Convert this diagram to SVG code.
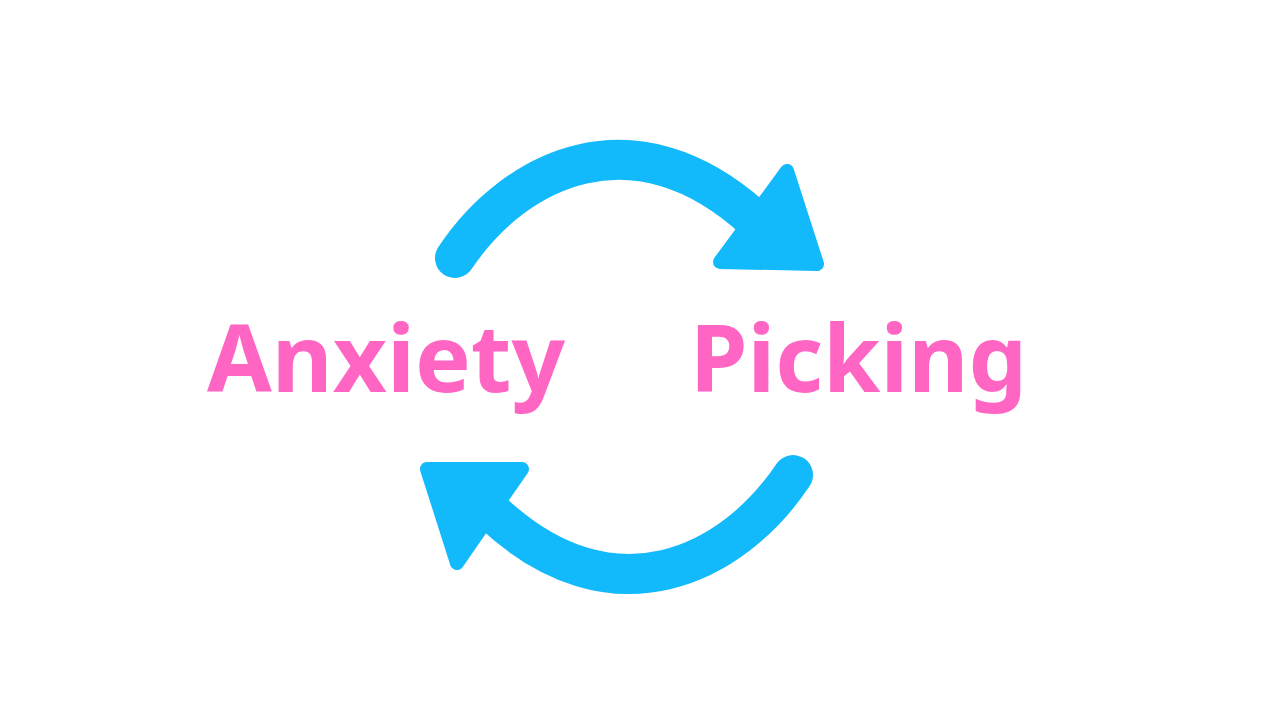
<svg xmlns="http://www.w3.org/2000/svg" width="1280" height="720" viewBox="0 0 1280 720">
<style>
.arc{fill:none;stroke:#12B9FB;stroke-width:40;stroke-linecap:round}
.head{fill:#12B9FB;stroke:#12B9FB;stroke-width:14;stroke-linejoin:round}
.lbl{font-family:"Noto Sans","Liberation Sans",sans-serif;font-weight:bold;font-size:94px;fill:#FF66C4}
</style>
<rect width="1280" height="720" fill="#fff"/>
<g id="connectors">
<g id="arrow-top">
<path class="arc" d="M455,258 C515,168 635,110 755,220"/>
<polygon class="head" points="787,171 817,264 720,262"/>
</g>
<g id="arrow-bottom">
<path class="arc" d="M793,475 C733,565 613,625 493,513"/>
<polygon class="head" points="457,563 427,469 522,469"/>
</g>
</g>
<g id="node-anxiety"><text class="lbl" x="207" y="392" textLength="358" lengthAdjust="spacingAndGlyphs">Anxiety</text></g>
<g id="node-picking"><text class="lbl" x="690" y="392" textLength="337" lengthAdjust="spacingAndGlyphs">Picking</text></g>
</svg>
